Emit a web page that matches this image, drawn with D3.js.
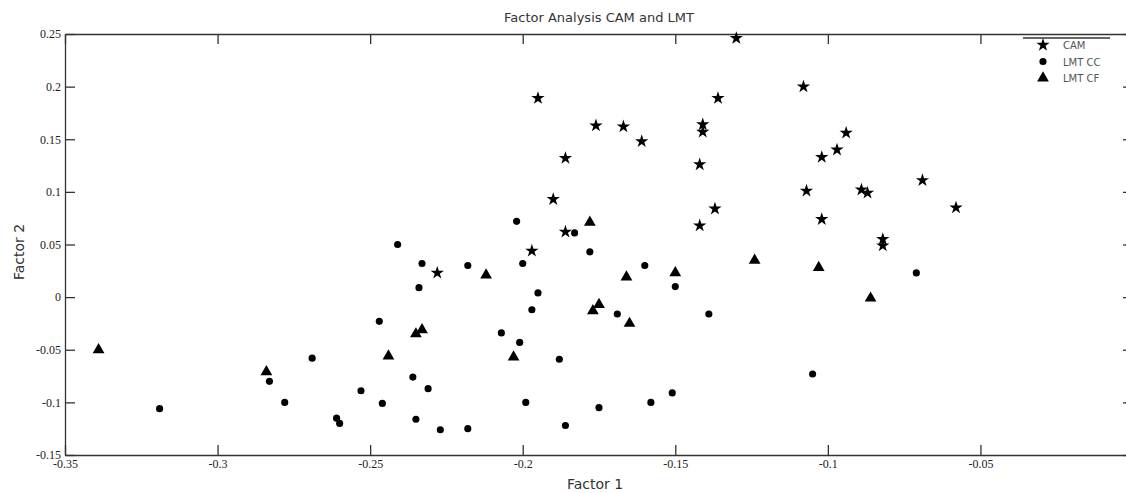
<!DOCTYPE html>
<html>
  <head>
    <title>Factor Analysis CAM and LMT</title>
    <script src="https://d3js.org/d3.v7.min.js"></script>
    <style>
      body { margin: 0; background: #fff; }
      .tick text { font-family: "Liberation Serif", serif; font-size: 12px; fill: #222; }
    </style>
  </head>
  <body>
    <div id="vis"></div>
    <script>
      // values: [factor 1, factor 2]
      var cam = [
        [-0.130, 0.246], [-0.195, 0.189], [-0.108, 0.200], [-0.136, 0.189],
        [-0.176, 0.163], [-0.167, 0.162], [-0.161, 0.148], [-0.141, 0.164],
        [-0.141, 0.157], [-0.094, 0.156], [-0.097, 0.140], [-0.102, 0.133],
        [-0.186, 0.132], [-0.142, 0.126], [-0.069, 0.111], [-0.107, 0.101],
        [-0.089, 0.102], [-0.087, 0.099], [-0.190, 0.093], [-0.137, 0.084],
        [-0.058, 0.085], [-0.102, 0.074], [-0.142, 0.068], [-0.082, 0.055],
        [-0.082, 0.049], [-0.186, 0.062], [-0.197, 0.044], [-0.228, 0.023]
      ];
      var lmtCC = [
        [-0.241, 0.050], [-0.202, 0.072], [-0.233, 0.032], [-0.218, 0.030],
        [-0.200, 0.032], [-0.183, 0.061], [-0.178, 0.043], [-0.160, 0.030],
        [-0.150, 0.010], [-0.234, 0.009], [-0.195, 0.004], [-0.197, -0.012],
        [-0.169, -0.016], [-0.139, -0.016], [-0.247, -0.023], [-0.207, -0.034],
        [-0.201, -0.043], [-0.071, 0.023], [-0.269, -0.058], [-0.188, -0.059],
        [-0.283, -0.080], [-0.236, -0.076], [-0.231, -0.087], [-0.253, -0.089],
        [-0.151, -0.091], [-0.278, -0.100], [-0.246, -0.101], [-0.199, -0.100],
        [-0.158, -0.100], [-0.175, -0.105], [-0.319, -0.106], [-0.261, -0.115],
        [-0.260, -0.120], [-0.235, -0.116], [-0.227, -0.126], [-0.218, -0.125],
        [-0.186, -0.122], [-0.105, -0.073]
      ];
      var lmtCF = [
        [-0.339, -0.050], [-0.284, -0.071], [-0.244, -0.056], [-0.235, -0.035],
        [-0.233, -0.031], [-0.212, 0.021], [-0.178, 0.071], [-0.166, 0.019],
        [-0.150, 0.023], [-0.124, 0.035], [-0.177, -0.013], [-0.175, -0.007],
        [-0.165, -0.025], [-0.203, -0.057], [-0.103, 0.028], [-0.086, -0.001]
      ];
      var seriesNames = ["CAM", "LMT CC", "LMT CF"];
      var xTicks = [-0.35, -0.3, -0.25, -0.2, -0.15, -0.1, -0.05];
      var xTickLabels = ["-0.35", "-0.3", "-0.25", "-0.2", "-0.15", "-0.1", "-0.05"];
      var yTicks = [-0.15, -0.1, -0.05, 0, 0.05, 0.1, 0.15, 0.2, 0.25];
      var yTickLabels = ["-0.15", "-0.1", "-0.05", "0", "0.05", "0.1", "0.15", "0.2", "0.25"];

      var width = 1126;
      var height = 493;
      // plot box; right edge sits just past the window, like the reference
      var plotL = 65, plotR = 1133, plotT = 34, plotB = 455;

      var svg = d3.select("#vis")
        .append("svg")
        .attr("width", width)
        .attr("height", height);

      var x = d3.scaleLinear()
        .domain([-0.35, 0])
        .range([plotL, plotR]);
      var y = d3.scaleLinear()
        .domain([-0.15, 0.25])
        .range([plotB, plotT]);

      function styleAxis(g) {
        g.selectAll("path, line").attr("stroke", "#333").attr("stroke-width", 1.3);
      }

      // bottom + left with labels, top + right only ticks (box like matlab)
      svg.append("g")
        .attr("transform", "translate(0," + plotB + ")")
        .call(d3.axisBottom(x).tickValues(xTicks)
          .tickFormat(function (d, i) { return xTickLabels[i]; })
          .tickSizeInner(-10).tickSizeOuter(0).tickPadding(4))
        .call(styleAxis);
      svg.append("g")
        .attr("transform", "translate(" + plotL + ",0)")
        .call(d3.axisLeft(y).tickValues(yTicks)
          .tickFormat(function (d, i) { return yTickLabels[i]; })
          .tickSizeInner(-10).tickSizeOuter(0).tickPadding(4))
        .call(styleAxis);
      svg.append("g")
        .attr("transform", "translate(0," + plotT + ")")
        .call(d3.axisTop(x).tickValues(xTicks).tickFormat("")
          .tickSizeInner(-10).tickSizeOuter(0))
        .call(styleAxis);
      svg.append("g")
        .attr("transform", "translate(" + plotR + ",0)")
        .call(d3.axisRight(y).tickValues(yTicks).tickFormat("")
          .tickSizeInner(-10).tickSizeOuter(0))
        .call(styleAxis);

      var shapes = [d3.symbolStar, d3.symbolCircle, d3.symbolTriangle];
      var sizes = [55, 40, 60];
      var groups = [cam, lmtCC, lmtCF];

      groups.forEach(function (data, k) {
        var sym = d3.symbol().type(shapes[k]).size(sizes[k]);
        svg.append("g")
          .selectAll("path")
          .data(data)
          .enter()
          .append("path")
          .attr("d", sym)
          .attr("transform", function (d) { return "translate(" + x(d[0]) + "," + y(d[1]) + ")"; })
          .attr("fill", "#000");
      });

      // legend
      var leg = svg.append("g");
      leg.append("rect")
        .attr("x", 1023).attr("y", 37).attr("width", 87).attr("height", 50)
        .attr("fill", "#fff");
      leg.append("line")
        .attr("x1", 1023).attr("x2", 1110).attr("y1", 38).attr("y2", 38)
        .attr("stroke", "#333").attr("stroke-width", 1.3);
      seriesNames.forEach(function (name, k) {
        var sym = d3.symbol().type(shapes[k]).size(sizes[k]);
        leg.append("path")
          .attr("d", sym)
          .attr("transform", "translate(1043," + (45 + k * 16.5) + ")");
        leg.append("text")
          .attr("x", 1063).attr("y", 49 + k * 16.5)
          .style("font-family", "DejaVu Sans, sans-serif")
          .style("font-size", "10px")
          .style("fill", "#555")
          .text(name);
      });

      svg.append("text")
        .attr("x", (plotL + plotR) / 2).attr("y", 22)
        .attr("text-anchor", "middle")
        .style("font-family", "DejaVu Sans, sans-serif")
        .style("font-size", "13px")
        .style("fill", "#333")
        .text("Factor Analysis CAM and LMT");

      svg.append("text")
        .attr("x", 595).attr("y", 489)
        .attr("text-anchor", "middle")
        .style("font-family", "DejaVu Sans, sans-serif")
        .style("font-size", "14px")
        .style("fill", "#333")
        .text("Factor 1");

      svg.append("text")
        .attr("transform", "translate(24,252) rotate(270)")
        .attr("text-anchor", "middle")
        .style("font-family", "DejaVu Sans, sans-serif")
        .style("font-size", "14px")
        .style("fill", "#333")
        .text("Factor 2");
    </script>
  </body>
</html>
